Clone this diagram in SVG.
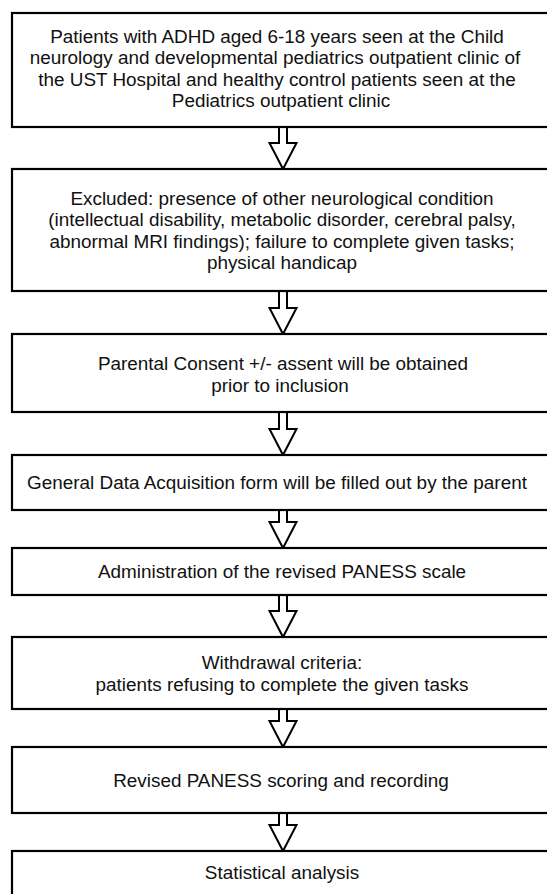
<svg xmlns="http://www.w3.org/2000/svg" width="547" height="894" viewBox="0 0 547 894">
<style>
.box{fill:#fff;stroke:#000;stroke-width:2.2}
.arr{fill:#fff;stroke:#000;stroke-width:2;stroke-linejoin:miter}
text{font-family:"Liberation Sans",Arial,Helvetica,sans-serif;font-size:18.9px;fill:#111;text-anchor:middle}
</style>
<rect width="547" height="894" fill="#fff"/>
<g id="connectors">
<polygon class="arr" points="279,127 287,127 287,143 296.5,143 283,169 269.5,143 279,143"/>
<polygon class="arr" points="279,291 287,291 287,308 296.5,308 283,334 269.5,308 279,308"/>
<polygon class="arr" points="279,412 287,412 287,429 296.5,429 283,455 269.5,429 279,429"/>
<polygon class="arr" points="279,510 287,510 287,522 296.5,522 283,548 269.5,522 279,522"/>
<polygon class="arr" points="279,595 287,595 287,611 296.5,611 283,637 269.5,611 279,611"/>
<polygon class="arr" points="279,709 287,709 287,721 296.5,721 283,747 269.5,721 279,721"/>
<polygon class="arr" points="279,813 287,813 287,825 296.5,825 283,851 269.5,825 279,825"/>
</g>
<g id="n1"><rect class="box" x="12" y="13" width="560" height="114"/>
<text x="277" y="42.5">Patients with ADHD aged 6-18 years seen at the Child</text>
<text x="275" y="64">neurology and developmental pediatrics outpatient clinic of</text>
<text x="277" y="85.5">the UST Hospital and healthy control patients seen at the</text>
<text x="281" y="107">Pediatrics outpatient clinic</text></g>
<g id="n2"><rect class="box" x="12" y="169" width="560" height="122"/>
<text x="282" y="204.5">Excluded: presence of other neurological condition</text>
<text x="282" y="226">(intellectual disability, metabolic disorder, cerebral palsy,</text>
<text x="282" y="247.5">abnormal MRI findings); failure to complete given tasks;</text>
<text x="282" y="269">physical handicap</text></g>
<g id="n3"><rect class="box" x="12" y="334" width="560" height="78"/>
<text x="283" y="370">Parental Consent +/- assent will be obtained</text>
<text x="280" y="391.5">prior to inclusion</text></g>
<g id="n4"><rect class="box" x="12" y="455" width="560" height="55"/>
<text x="277" y="489">General Data Acquisition form will be filled out by the parent</text></g>
<g id="n5"><rect class="box" x="12" y="548" width="560" height="47"/>
<text x="282" y="578">Administration of the revised PANESS scale</text></g>
<g id="n6"><rect class="box" x="12" y="637" width="560" height="72"/>
<text x="282" y="669">Withdrawal criteria:</text>
<text x="282" y="690.5">patients refusing to complete the given tasks</text></g>
<g id="n7"><rect class="box" x="12" y="747" width="560" height="66"/>
<text x="281" y="786.5">Revised PANESS scoring and recording</text></g>
<g id="n8"><rect class="box" x="12" y="851" width="560" height="60"/>
<text x="282" y="878.5">Statistical analysis</text></g>
</svg>
